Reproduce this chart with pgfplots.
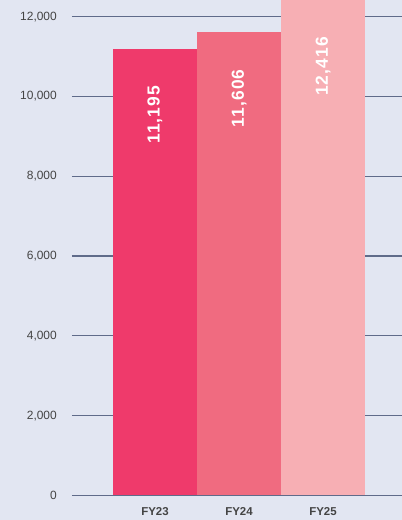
\documentclass[border=0pt]{standalone}
\usepackage{fontspec}
\setmainfont{Liberation Sans}
\newfontfamily\lblfont[LetterSpace=6]{Liberation Sans}
\usepackage{pgfplots}
\pgfplotsset{compat=1.18}
\definecolor{bg}{HTML}{E2E6F2}
\definecolor{gridc}{HTML}{5F6B8A}
\definecolor{c1}{HTML}{EF3A6B}
\definecolor{c2}{HTML}{F06B80}
\definecolor{c3}{HTML}{F7AFB4}
\definecolor{tk}{HTML}{444444}
\begin{document}
\begin{tikzpicture}
\fill[bg] (-72bp,-24.6bp) rectangle (330bp,495.4bp);
\begin{axis}[
 at={(0,0)}, anchor=south west, scale only axis,
 width=330bp, height=495.4bp,
 xmin=-0.988, xmax=2.940, ymin=0, ymax=12416,
 axis line style={draw=none},
 ytick={0,2000,...,12000}, ymajorgrids, scaled y ticks=false,
 grid style={gridc, line width=1.1bp},
 major tick length=0pt,
 xtick={0,1,2}, xticklabels={FY23,FY24,FY25},
 /pgf/number format/.cd, fixed, 1000 sep={,}, assume math mode=true, /pgfplots/.cd,
 yticklabel style={anchor=east, inner sep=0pt, xshift=-15bp, font=\fontsize{12}{12}\selectfont, text=tk},
 xticklabel style={anchor=base, inner sep=0pt, yshift=-20bp, font=\fontsize{11.5}{12}\selectfont\bfseries, text=tk},
 every node near coord/.append style={rotate=90, anchor=east, inner xsep=37bp, inner ysep=0pt, text=white, font=\fontsize{17.5}{18}\lblfont\bfseries},
]
\addplot[ybar, bar width=1, bar shift=0pt, fill=c1, draw=none, nodes near coords] coordinates {(0,11195)};
\addplot[ybar, bar width=1, bar shift=0pt, fill=c2, draw=none, nodes near coords] coordinates {(1,11606)};
\addplot[ybar, bar width=1, bar shift=0pt, fill=c3, draw=none, nodes near coords] coordinates {(2,12416)};
\end{axis}
\pgfresetboundingbox
\useasboundingbox (-72bp,-24.6bp) rectangle (330bp,495.4bp);
\end{tikzpicture}
\end{document}
